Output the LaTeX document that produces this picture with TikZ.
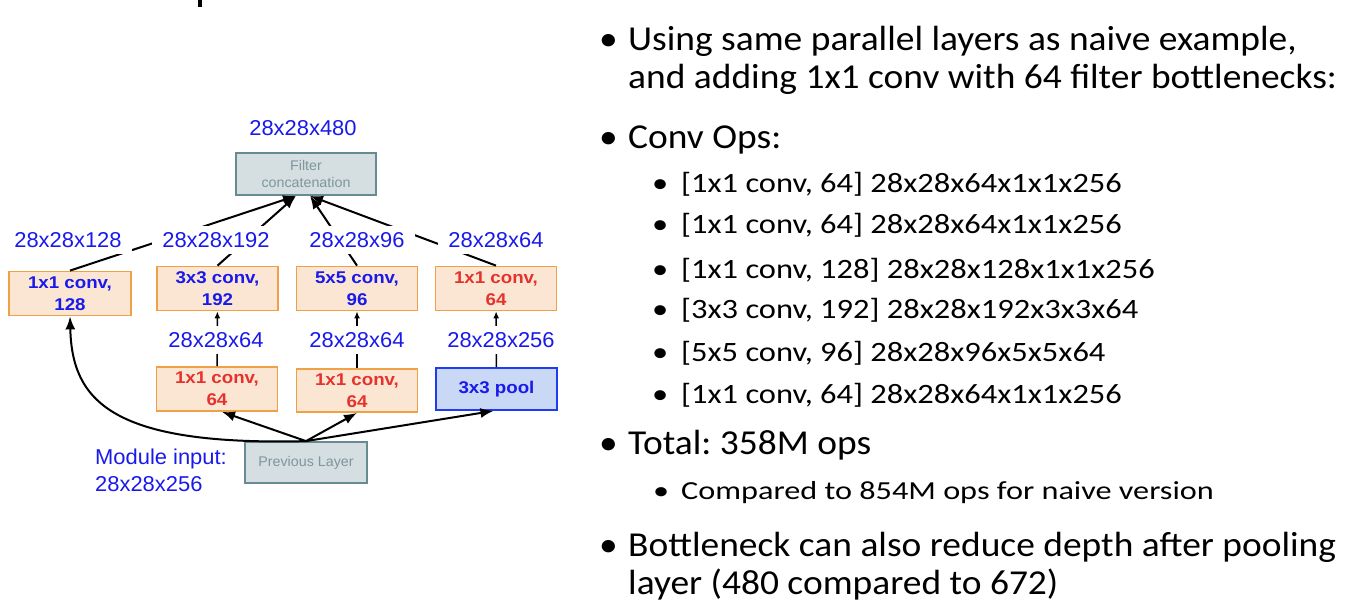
\documentclass[tikz,border=0pt]{standalone}
\usepackage{fontspec}
\setmainfont{Carlito}[FakeStretch=1.07]
\newfontfamily\subfont{Carlito}[FakeStretch=1.16]
\newfontfamily\cmpfont{Carlito}[FakeStretch=1.24]
\newfontfamily\arial{Liberation Sans}[FakeStretch=1.02]
\newfontfamily\boxfont{Liberation Sans}[FakeStretch=1.1]
\usetikzlibrary{calc,arrows.meta}
\definecolor{boxline}{RGB}{240,160,70}
\definecolor{boxfill}{RGB}{250,230,211}
\definecolor{dimblue}{RGB}{25,25,235}
\definecolor{convred}{RGB}{230,50,45}
\definecolor{poolline}{RGB}{30,60,240}
\definecolor{poolfill}{RGB}{200,216,245}
\definecolor{greyline}{RGB}{104,138,146}
\definecolor{greyfill}{RGB}{213,223,225}
\definecolor{greytext}{RGB}{125,150,156}
\tikzset{
    conv/.style = {
        draw=boxline, fill=boxfill, rectangle, align=center,
        line width=1.8pt,
        inner sep=0,
        minimum width=121pt,
        minimum height=44pt,
        font=\boxfont\bfseries\fontsize{17}{22}\selectfont
    },
    pool/.style = {
        conv, draw=poolline, fill=poolfill
    },
    layer/.style = {
        draw=greyline, fill=greyfill, rectangle, align=center,
        line width=1.8pt,
        inner sep=0,
        minimum width=122pt,
        minimum height=41pt,
        text=greytext,
        font=\arial\fontsize{14}{16.5}\selectfont
    },
    dim/.style = {
        fill=white, text=dimblue,
        inner xsep=10pt, inner ysep=6pt,
        font=\arial\fontsize{21.5}{27}\selectfont
    },
    feed/.style = {-{Latex[length=13pt,width=10pt]}, line width=2pt},
    pass/.style = {-{Latex[length=7pt,width=6pt]}, line width=1.5pt},
    bul/.style  = {anchor=base west, inner sep=0},
    big/.style  = {bul, font=\fontsize{35}{38}\selectfont},
    mid/.style  = {bul, font=\subfont\fontsize{28}{32}\selectfont},
    tiny/.style = {bul, font=\cmpfont\fontsize{26}{30}\selectfont}
}

\begin{document}
\frenchspacing
\begin{tikzpicture}[x=1pt,y=-1pt]
\useasboundingbox (0,0) rectangle (1358,608);

% 1. boxes
\node[layer,minimum width=140pt,minimum height=42pt] (concat) at (306,174) {Filter\\ concatenation};
\node[conv,text=dimblue,minimum width=122pt] (c128) at (70,293.5) {1x1 conv,\\ 128};
\node[conv,text=dimblue] (c192) at (217.5,288.5) {3x3 conv,\\ 192};
\node[conv,text=dimblue] (c96)  at (357,288.5)   {5x5 conv,\\ 96};
\node[conv,text=convred] (c64)  at (496,288.5)   {1x1 conv,\\ 64};
\node[conv,text=convred] (r192) at (217,389)     {1x1 conv,\\ 64};
\node[conv,text=convred,minimum height=43pt] (r96) at (357,390.5) {1x1 conv,\\ 64};
\node[pool,text=dimblue,minimum height=42pt] (pool) at (496.5,389) {3x3 pool};
\node[layer] (prev) at (306,462.5) {Previous Layer};

% 2. arrows from previous layer
\draw[feed] (prev.north) .. controls (110,446) and (72,400) .. (c128.south);
\draw[feed] (prev.north) -- ($(r192.south)+(5,0)$);
\draw[feed] (prev.north) -- (r96.south);
\draw[feed] (prev.north) -- ($(pool.south)+(-3,0)$);

% 3. arrows between rows and to concatenation
\draw[pass] (r192) -- (c192);
\draw[pass] (r96)  -- (c96);
\draw[pass] (pool) -- (c64);
\draw[feed] (c128.north) -- ($(concat.south)+(-10,0)$);
\draw[feed] (c192.north) -- ($(concat.south)+(-10,0)$);
\draw[feed] (c96.north)  -- ($(concat.south)+(4,0)$);
\draw[feed] (c64.north)  -- ($(concat.south)+(4,0)$);

% 4. tensor sizes
\node[dim] (d480) at (303,128) {28x28x480};
\node[dim] (d128) at (68,240)  {28x28x128};
\node[dim] (d192) at (216,240) {28x28x192};
\node[dim] (d96)  at (357,240) {28x28x96};
\node[dim] (d64)  at (496,240) {28x28x64};
\node[dim] (e192) at (216,340) {28x28x64};
\node[dim] (e96)  at (357,340) {28x28x64};
\node[dim] (epool) at (501,340) {28x28x256};
\node[dim,fill=none,inner sep=0,align=left,anchor=west] (input) at (95,470)
      {Module input:\\ 28x28x256};

% 5. notes
\node[big] (b1) at (599,50)  {•};
\node[big] (t1) at (628,50)  {Using same parallel layers as naive example,};
\node[big] (t2) at (628,88)  {and adding 1x1 conv with 64 filter bottlenecks:};
\node[big] (b2) at (599,148) {•};
\node[big] (t3) at (628,148) {Conv Ops:};
\node[mid] (b3) at (652,192) {•};
\node[mid] (s1) at (681,192) {[1x1 conv, 64] 28x28x64x1x1x256};
\node[mid] (b4) at (652,233) {•};
\node[mid] (s2) at (681,233) {[1x1 conv, 64] 28x28x64x1x1x256};
\node[mid] (b5) at (652,278) {•};
\node[mid] (s3) at (681,278) {[1x1 conv, 128] 28x28x128x1x1x256};
\node[mid] (b6) at (652,318) {•};
\node[mid] (s4) at (681,318) {[3x3 conv, 192] 28x28x192x3x3x64};
\node[mid] (b7) at (652,361) {•};
\node[mid] (s5) at (681,361) {[5x5 conv, 96] 28x28x96x5x5x64};
\node[mid] (b8) at (652,403) {•};
\node[mid] (s6) at (681,403) {[1x1 conv, 64] 28x28x64x1x1x256};
\node[big] (b9) at (599,454) {•};
\node[big] (t4) at (628,454) {Total: 358M ops};
\node[tiny] (b10) at (653,499) {•};
\node[tiny] (s7) at (681,499) {Compared to 854M ops for naive version};
\node[big] (b11) at (599,556) {•};
\node[big] (t5) at (628,556) {Bottleneck can also reduce depth after pooling};
\node[big] (t6) at (628,594) {layer (480 compared to 672)};

% 6. cut title
\fill (198,0) rectangle (202,7);

\end{tikzpicture}
\end{document}
